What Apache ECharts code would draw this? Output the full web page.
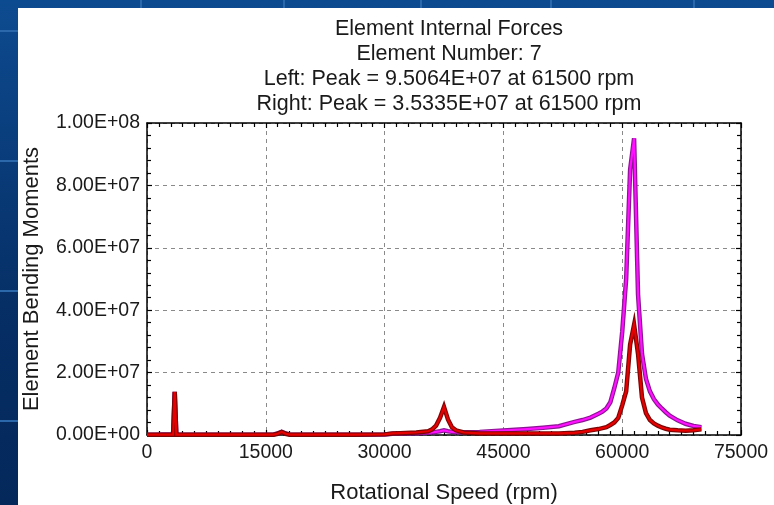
<!DOCTYPE html>
<html>
<head>
<meta charset="utf-8">
<script src="https://cdn.jsdelivr.net/npm/echarts@6/dist/echarts.min.js"></script>
<style>
  html, body { margin: 0; padding: 0; }
  body { width: 774px; height: 505px; overflow: hidden; position: relative;
         background: linear-gradient(#0d4b90, #062f66 60%, #04285a); }
  .vl { position: absolute; top: 0; width: 2px; height: 505px; background: #2a68ab; }
  .hl { position: absolute; left: 0; height: 2px; width: 774px; background: #2a68ab; }
  #page { position: absolute; left: 18px; top: 8px; width: 756px; height: 497px; background: #fff; }
  #chart { position: absolute; left: 0; top: 0; width: 774px; height: 505px; }
</style>
</head>
<body>
<div class="vl" style="left:140px"></div>
<div class="vl" style="left:283px"></div>
<div class="vl" style="left:420px"></div>
<div class="vl" style="left:550px"></div>
<div class="vl" style="left:693px"></div>
<div class="hl" style="top:30px"></div>
<div class="hl" style="top:160px"></div>
<div class="hl" style="top:290px"></div>
<div class="hl" style="top:420px"></div>
<div id="page"></div>
<div id="chart"></div>
<script>
// Rotor speed samples (rpm)
const speeds = [
  0, 1000, 2000, 3000, 3300, 3500, 3700, 4000, 5000, 8000, 12000, 16000, 16500, 17000, 17500, 18000,
  22000, 26000, 30000, 31000, 32000, 34000, 35500, 36000, 36500, 37000, 37500, 38000, 38500, 39000,
  40000, 42000, 44000, 46000, 48000, 50000, 52000, 54000, 55000, 56000, 57000, 57500, 58000, 58500,
  59000, 59500, 60000, 60500, 61000, 61500, 62000, 62500, 63000, 63500, 64000, 64500, 65000, 65500,
  66000, 67000, 68000, 69000, 70000
];

// Left end bending moment
const leftMoment = [
  0.1e6, 0.1e6, 0.15e6, 0.2e6, 0.2e6, 13.8e6, 0.2e6, 0.15e6, 0.1e6, 0.1e6, 0.1e6, 0.2e6, 0.5e6, 1.0e6, 0.5e6, 0.2e6,
  0.1e6, 0.1e6, 0.2e6, 0.4e6, 0.5e6, 0.6e6, 0.7e6, 0.8e6, 1.0e6, 1.2e6, 1.5e6, 1.2e6, 1.0e6, 0.9e6,
  0.9e6, 1.0e6, 1.3e6, 1.6e6, 1.9e6, 2.3e6, 2.8e6, 4.2e6, 4.8e6, 5.6e6, 6.8e6, 7.5e6, 8.5e6, 10.5e6,
  15e6, 20e6, 33e6, 50e6, 85e6, 95.064e6, 45e6, 26e6, 18e6, 14e6, 11.5e6, 9.8e6, 8.5e6, 7.3e6,
  6.2e6, 4.7e6, 3.6e6, 2.9e6, 2.5e6
];

// Right end bending moment
const rightMoment = [
  0.1e6, 0.1e6, 0.1e6, 0.1e6, 0.1e6, 13.8e6, 0.1e6, 0.1e6, 0.1e6, 0.1e6, 0.1e6, 0.1e6, 0.4e6, 1.0e6, 0.4e6, 0.1e6,
  0.1e6, 0.1e6, 0.2e6, 0.5e6, 0.6e6, 0.8e6, 1.2e6, 1.8e6, 3.0e6, 5.5e6, 9.0e6, 5.0e6, 2.5e6, 1.5e6,
  0.8e6, 0.5e6, 0.5e6, 0.5e6, 0.5e6, 0.5e6, 0.5e6, 0.7e6, 1.0e6, 1.5e6, 1.9e6, 2.2e6, 2.5e6, 3.2e6,
  4.0e6, 5.5e6, 9.5e6, 14e6, 29e6, 35.335e6, 26e6, 12e6, 7e6, 4.8e6, 3.7e6, 3.0e6, 2.4e6, 2.0e6,
  1.7e6, 1.5e6, 1.4e6, 1.5e6, 1.8e6
];

const titleLines = [
  'Element Internal Forces',
  'Element Number: 7',
  'Left: Peak = 9.5064E+07 at 61500 rpm',
  'Right: Peak = 3.5335E+07 at 61500 rpm'
];

const FONT = '"Liberation Sans", Arial, sans-serif';

// Scientific label such as 8.00E+07
function sci(v) {
  if (v === 0) return '0.00E+00';
  const e = Math.floor(Math.log10(Math.abs(v)) + 1e-9);
  const m = v / Math.pow(10, e);
  const es = (e < 0 ? '-' : '+') + String(Math.abs(e)).padStart(2, '0');
  return m.toFixed(2) + 'E' + es;
}

const pairs = arr => speeds.map((s, i) => [s, arr[i]]);

function curve(arr, color, width, z) {
  return {
    type: 'line', data: pairs(arr), symbol: 'none', z: z,
    lineStyle: { color: color, width: width, join: 'miter' },
    silent: true
  };
}

const chart = echarts.init(document.getElementById('chart'), null, { renderer: 'canvas' });

const frameAxis = {
  axisLine: { show: true, onZero: false, lineStyle: { color: '#000', width: 1.5 } },
  axisTick: { show: true, inside: true, length: 5, lineStyle: { color: '#000', width: 1.2 } },
  axisLabel: { show: false },
  splitLine: { show: false }
};

chart.setOption({
  animation: false,
  backgroundColor: 'transparent',
  textStyle: { fontFamily: FONT },
  title: {
    text: titleLines.join('\n'),
    left: 444, top: 12, textAlign: 'center',
    textStyle: { fontFamily: FONT, fontSize: 21.5, fontWeight: 'normal', color: '#1a1a1a', lineHeight: 25 }
  },
  grid: { left: 147, top: 123, width: 594, height: 312, containLabel: false, outerBoundsMode: 'none' },
  xAxis: [{
    type: 'value', min: 0, max: 75000, interval: 15000,
    name: 'Rotational Speed (rpm)', nameLocation: 'middle', nameGap: 47,
    nameTextStyle: { fontFamily: FONT, fontSize: 22, color: '#1a1a1a' },
    axisLine: { show: true, onZero: false, lineStyle: { color: '#000', width: 1.5 } },
    axisTick: { show: true, inside: true, length: 5, lineStyle: { color: '#000', width: 1.2 } },
    minorTick: { show: true, splitNumber: 10, length: 4, lineStyle: { color: '#000', width: 1.2 } },
    axisLabel: { fontFamily: FONT, fontSize: 19.5, color: '#1a1a1a', margin: 8, formatter: v => String(v) },
    splitLine: { show: true, lineStyle: { color: '#8a8a8a', width: 1, type: [4, 4] } }
  }, Object.assign({
    type: 'value', min: 0, max: 75000, interval: 15000, position: 'top',
    minorTick: { show: true, splitNumber: 10, length: 4, lineStyle: { color: '#000', width: 1.2 } }
  }, frameAxis)],
  yAxis: [{
    type: 'value', min: 0, max: 1e8, interval: 2e7,
    name: 'Element Bending Moments', nameLocation: 'middle', nameGap: 104,
    nameTextStyle: { fontFamily: FONT, fontSize: 22, color: '#1a1a1a' },
    axisLine: { show: true, onZero: false, lineStyle: { color: '#000', width: 1.5 } },
    axisTick: { show: true, inside: true, length: 5, lineStyle: { color: '#000', width: 1.2 } },
    minorTick: { show: true, splitNumber: 5, length: 4, lineStyle: { color: '#000', width: 1.2 } },
    axisLabel: { fontFamily: FONT, fontSize: 19.5, color: '#1a1a1a', margin: 7, formatter: sci },
    splitLine: { show: true, lineStyle: { color: '#8a8a8a', width: 1, type: [4, 4] } }
  }, Object.assign({
    type: 'value', min: 0, max: 1e8, interval: 2e7, position: 'right',
    minorTick: { show: true, splitNumber: 5, length: 4, lineStyle: { color: '#000', width: 1.2 } }
  }, frameAxis)],
  series: [
    curve(leftMoment, '#8a1592', 4.5, 2),
    curve(leftMoment, '#ff10ff', 2.2, 3),
    curve(rightMoment, '#7a0505', 4.5, 4),
    curve(rightMoment, '#e80000', 2.2, 5)
  ]
});
</script>
</body>
</html>
